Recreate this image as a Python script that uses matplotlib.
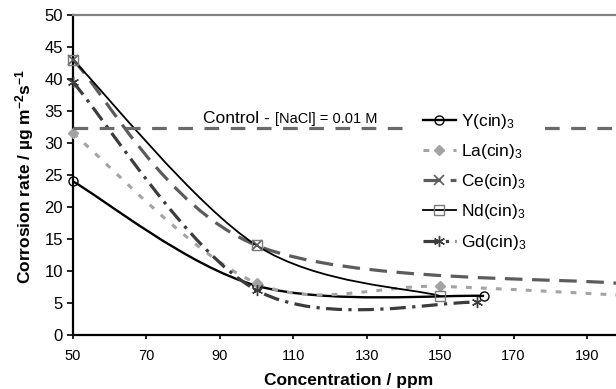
import numpy as np
import matplotlib
matplotlib.use("Agg")
import matplotlib.pyplot as plt
from matplotlib.path import Path
from matplotlib.patches import PathPatch
from matplotlib.lines import Line2D

plt.rcParams['font.family'] = ['Liberation Sans', 'DejaVu Sans']
plt.rcParams['mathtext.fontset'] = 'custom'
plt.rcParams['mathtext.rm'] = 'Liberation Sans'
plt.rcParams['mathtext.bf'] = 'Liberation Sans:bold'
plt.rcParams['mathtext.it'] = 'Liberation Sans:italic'

# ---- data ----
y_x = [50, 100, 162]
y_v = [24.0, 7.7, 6.1]
la_x = [50, 100, 150, 200]
la_v = [31.5, 8.1, 7.6, 6.2]
ce_x = [50, 100, 200]
ce_v = [43.0, 14.0, 8.0]
nd_x = [50, 100, 150]
nd_v = [43.0, 14.0, 6.1]
gd_x = [50, 100, 160]
gd_v = [39.5, 7.0, 5.1]
control_value = 32.3
control_text_main = 'Control - '
control_text_sub = '[NaCl] = 0.01 M'
labels = ['Y(cin)$_3$', 'La(cin)$_3$', 'Ce(cin)$_3$', 'Nd(cin)$_3$', 'Gd(cin)$_3$']
xticks = [50, 70, 90, 110, 130, 150, 170, 190]
yticks = [0, 5, 10, 15, 20, 25, 30, 35, 40, 45, 50]


def smooth_path(xs, ys):
    pts = np.column_stack([xs, ys]).astype(float)
    n = len(pts)
    verts = [pts[0]]
    codes = [Path.MOVETO]
    for i in range(n - 1):
        p0 = pts[i - 1] if i > 0 else pts[i]
        p1 = pts[i]
        p2 = pts[i + 1]
        p3 = pts[i + 2] if i + 2 < n else pts[i + 1]
        c1 = p1 + (p2 - p0) / 6.0
        c2 = p2 - (p3 - p1) / 6.0
        verts += [c1, c2, p2]
        codes += [Path.CURVE4] * 3
    return Path(verts, codes)


W, H = 616, 389
fig = plt.figure(figsize=(W / 100, H / 100), dpi=100)
ax = fig.add_axes([73 / W, 54 / H, 543 / W, 320 / H])
ax.set_xlim(50, 50 + 543 / 3.671)
ax.set_ylim(0, 50)

series = [
    dict(x=y_x, y=y_v, color='black', lw=1.7, ls='solid', marker='o', mfc='none', mec='black', ms=6.5, mew=1.0),
    dict(x=la_x, y=la_v, color='#a3a3a3', lw=2.2, ls=(0, (1.9, 3.0)), marker='D', mfc='#a3a3a3', mec='#a3a3a3', ms=5.5, mew=1.0),
    dict(x=ce_x, y=ce_v, color='#5c5c5c', lw=2.3, ls=(0, (5.5, 3.0)), marker='x', mfc='none', mec='#5c5c5c', ms=7, mew=1.2),
    dict(x=nd_x, y=nd_v, color='black', lw=1.3, ls='solid', marker='s', mfc='none', mec='#7a7a7a', ms=7, mew=1.0),
    dict(x=gd_x, y=gd_v, color='#3c3c3c', lw=2.3, ls=(0, (5.0, 2.0, 1.0, 2.0)), marker=(6, 2, 0), mfc='none', mec='#3c3c3c', ms=8, mew=1.0),
]

handles = []
for i, s in enumerate(series):
    patch = PathPatch(smooth_path(s['x'], s['y']), facecolor='none', edgecolor=s['color'],
                      lw=s['lw'], linestyle=s['ls'], zorder=2 + i * 0.1)
    ax.add_patch(patch)
    ax.plot(s['x'], s['y'], linestyle='none', marker=s['marker'], mfc=s['mfc'], mec=s['mec'],
            ms=s['ms'], mew=s['mew'], zorder=3 + i * 0.1, clip_on=False)
    handles.append(Line2D([], [], color=s['color'], lw=s['lw'], linestyle=s['ls'], marker=s['marker'],
                          mfc=s['mfc'], mec=s['mec'], ms=s['ms'], mew=s['mew']))

# control line
ax.axhline(control_value, color='#6a6a6a', lw=2.3, linestyle=(0, (4.6, 3.6)), zorder=4)
t1 = ax.text(85.4, 33.1, control_text_main, fontsize=12.5, va='baseline', ha='left', zorder=5)
ax.annotate(control_text_sub, xy=(1, 0), xycoords=t1, fontsize=10.5, va='bottom', ha='left', zorder=5)

leg = ax.legend(handles, labels, loc='upper left', bbox_to_anchor=(407 / W, 1 - 96 / H),
                bbox_transform=fig.transFigure, fontsize=12.5, frameon=True, framealpha=1,
                facecolor='white', edgecolor='none', fancybox=False, borderpad=0.9,
                handlelength=1.9, handletextpad=0.3, labelspacing=0.65, numpoints=1,
                borderaxespad=0)
leg.set_zorder(6)

# axes styling
ax.spines['right'].set_visible(False)
ax.spines['top'].set_color('#808080')
ax.spines['top'].set_linewidth(1.6)
ax.spines['left'].set_linewidth(1.6)
ax.spines['bottom'].set_linewidth(1.6)
ax.set_xticks(xticks)
ax.set_yticks(yticks)
ax.tick_params(axis='y', direction='out', length=4.3, width=1.2, pad=3, labelsize=12)
ax.tick_params(axis='x', direction='out', length=3, width=1.2, pad=7, labelsize=10.5)

fig.text(25 / W, 1 - 177 / H, r'Corrosion rate / µg m$^{\mathbf{-2}}$s$^{\mathbf{-1}}$',
         rotation=90, ha='center', va='center', fontsize=12.5, fontweight='bold')
fig.text(349 / W, 1 - 385 / H, 'Concentration / ppm', ha='center', va='baseline',
         fontsize=12.5, fontweight='bold')

fig.savefig('out.png', dpi=100)
